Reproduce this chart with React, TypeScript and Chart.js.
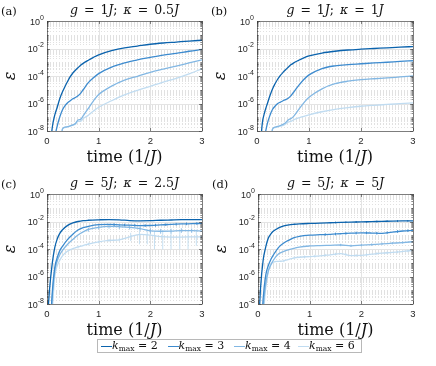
import React, { useEffect, useRef } from "react";
import { Chart, registerables } from "chart.js";

Chart.register(...registerables);

// ---------- data ----------
const kmaxLabels = ["2", "3", "4", "6"];
const seriesColors = ["#0b63ad", "#3d8bcf", "#82b7e3", "#c0dcf1"];

const yMajorTicks = [1e-8, 1e-6, 1e-4, 1e-2, 1];
const yMajorExponents = ["-8", "-6", "-4", "-2", "0"];
const xTicks = [0, 1, 2, 3];

// time grid, panels (a) and (b)
const tAB = [0.05, 0.1, 0.15, 0.2, 0.25, 0.3, 0.35, 0.4, 0.45, 0.5, 0.55, 0.6, 0.65, 0.7, 0.8, 0.9, 1.0, 1.25, 1.5, 1.75, 2.0, 2.25, 2.5, 2.75, 3.0];

const epsA_k2 = [1e-10, 1.58e-8, 1.41e-7, 5.62e-7, 2.4e-6, 7.08e-6, 1.78e-5, 4.17e-5, 8.91e-5, 1.66e-4, 2.63e-4, 3.98e-4, 6.03e-4, 8.32e-4, 1.41e-3, 2.29e-3, 3.47e-3, 6.92e-3, 1.12e-2, 1.51e-2, 2.04e-2, 2.51e-2, 2.95e-2, 3.47e-2, 3.98e-2];
const epsA_k3 = [1e-12, 1e-10, 3.16e-9, 2.51e-8, 1.12e-7, 3.55e-7, 7.08e-7, 1.12e-6, 1.58e-6, 2.19e-6, 2.75e-6, 3.63e-6, 5.5e-6, 1e-5, 3.31e-5, 7.59e-5, 1.48e-4, 4.37e-4, 8.91e-4, 1.48e-3, 2.24e-3, 3.31e-3, 4.47e-3, 6.31e-3, 8.51e-3];
const epsA_k4 = [1e-12, 1e-12, 1e-12, 1e-11, 3.16e-10, 1.41e-8, 1.91e-8, 2.09e-8, 2.4e-8, 2.82e-8, 3.55e-8, 6.31e-8, 7.08e-8, 1.26e-7, 4.47e-7, 1.58e-6, 4.47e-6, 1.82e-5, 5.01e-5, 9.55e-5, 1.82e-4, 3.16e-4, 5.25e-4, 8.91e-4, 1.51e-3];
const epsA_k6 = [1e-12, 1e-12, 1e-12, 1e-11, 3.16e-10, 1.41e-8, 1.78e-8, 2.0e-8, 2.24e-8, 2.63e-8, 3.16e-8, 5.01e-8, 5.01e-8, 7.94e-8, 1.41e-7, 2.82e-7, 5.37e-7, 1.58e-6, 4.17e-6, 8.91e-6, 1.78e-5, 3.55e-5, 6.76e-5, 1.41e-4, 3.39e-4];

const epsB_k2 = [1e-10, 3.16e-8, 2.51e-7, 1e-6, 3.8e-6, 1.2e-5, 2.82e-5, 6.03e-5, 1.1e-4, 1.82e-4, 2.88e-4, 4.37e-4, 6.46e-4, 8.71e-4, 1.38e-3, 2.09e-3, 2.88e-3, 4.68e-3, 6.31e-3, 7.76e-3, 8.91e-3, 1e-2, 1.12e-2, 1.26e-2, 1.38e-2];
const epsB_k3 = [1e-12, 1e-10, 3.98e-9, 3.55e-8, 1.41e-7, 3.8e-7, 6.61e-7, 1e-6, 1.26e-6, 1.58e-6, 1.91e-6, 2.4e-6, 3.55e-6, 6.31e-6, 2.0e-5, 5.62e-5, 1.2e-4, 3.47e-4, 5.5e-4, 6.76e-4, 7.76e-4, 8.91e-4, 1e-3, 1.15e-3, 1.29e-3];
const epsB_k4 = [1e-12, 1e-12, 1e-12, 1e-11, 3.16e-10, 1.41e-8, 1.91e-8, 2.19e-8, 2.51e-8, 3.02e-8, 3.98e-8, 6.31e-8, 7.94e-8, 1.12e-7, 3.55e-7, 1.12e-6, 2.82e-6, 1.17e-5, 2.75e-5, 4.17e-5, 5.37e-5, 6.31e-5, 7.24e-5, 8.51e-5, 1e-4];
const epsB_k6 = [1e-12, 1e-12, 1e-12, 1e-11, 3.16e-10, 1.41e-8, 1.78e-8, 2.0e-8, 2.24e-8, 2.51e-8, 3.31e-8, 4.47e-8, 5.01e-8, 6.31e-8, 8.91e-8, 1.17e-7, 1.51e-7, 2.51e-7, 3.8e-7, 5.01e-7, 6.31e-7, 7.41e-7, 8.51e-7, 9.77e-7, 1.12e-6];

// time grid, panels (c) and (d)
const tCD = [0.02, 0.05, 0.1, 0.15, 0.2, 0.25, 0.3, 0.4, 0.5, 0.6, 0.7, 0.8, 1.0, 1.2, 1.4, 1.6, 1.8, 2.0, 2.2, 2.4, 2.6, 2.8, 3.0];

const epsC_k2 = [3.16e-9, 1.26e-7, 7.94e-6, 1.26e-4, 5.62e-4, 1.41e-3, 2.51e-3, 5.25e-3, 7.94e-3, 1e-2, 1.15e-2, 1.23e-2, 1.32e-2, 1.38e-2, 1.32e-2, 1.17e-2, 1.12e-2, 1.15e-2, 1.23e-2, 1.29e-2, 1.35e-2, 1.38e-2, 1.38e-2];
const epsC_k3 = [1e-14, 1e-11, 5.01e-8, 4.47e-6, 2.51e-5, 7.94e-5, 1.58e-4, 5.01e-4, 1.2e-3, 2.4e-3, 3.55e-3, 4.47e-3, 5.89e-3, 6.17e-3, 5.75e-3, 5.37e-3, 5.01e-3, 5.13e-3, 5.62e-3, 6.17e-3, 6.61e-3, 6.92e-3, 7.24e-3];
const epsC_k4 = [1e-14, 1e-11, 2.51e-8, 2.51e-6, 1.41e-5, 3.98e-5, 7.94e-5, 2.19e-4, 5.01e-4, 1.05e-3, 1.78e-3, 2.63e-3, 3.8e-3, 4.37e-3, 4.17e-3, 3.8e-3, 3.02e-3, 2.09e-3, 1.95e-3, 2.0e-3, 2.19e-3, 2.14e-3, 2.0e-3];
const epsC_k6 = [1e-14, 1e-12, 2.51e-9, 1e-6, 6.31e-6, 1.58e-5, 3.16e-5, 7.08e-5, 1.05e-4, 1.41e-4, 1.78e-4, 2.29e-4, 3.31e-4, 4.17e-4, 4.68e-4, 7.59e-4, 1.15e-3, 1.02e-3, 7.94e-4, 7.41e-4, 7.41e-4, 7.59e-4, 7.76e-4];

const epsD_k2 = [1e-9, 1.58e-7, 1.58e-5, 1.41e-4, 6.31e-4, 1.26e-3, 2.0e-3, 3.47e-3, 4.79e-3, 5.75e-3, 6.31e-3, 6.76e-3, 7.24e-3, 7.59e-3, 8.13e-3, 8.71e-3, 9.12e-3, 9.33e-3, 9.77e-3, 1.02e-2, 1.07e-2, 1.1e-2, 1.12e-2];
const epsD_k3 = [1e-14, 1e-11, 2.51e-8, 1.26e-6, 6.31e-6, 1.78e-5, 3.8e-5, 1.32e-4, 2.75e-4, 4.47e-4, 6.61e-4, 8.32e-4, 1.02e-3, 1.1e-3, 1.17e-3, 1.29e-3, 1.41e-3, 1.51e-3, 1.45e-3, 1.35e-3, 1.7e-3, 2.04e-3, 2.24e-3];
const epsD_k4 = [1e-14, 1e-11, 5.01e-9, 3.16e-7, 2.51e-6, 7.08e-6, 1.58e-5, 4.47e-5, 6.76e-5, 8.91e-5, 1.12e-4, 1.38e-4, 1.66e-4, 1.78e-4, 1.86e-4, 1.95e-4, 1.7e-4, 1.91e-4, 2.09e-4, 2.34e-4, 2.63e-4, 2.95e-4, 3.39e-4];
const epsD_k6 = [1e-14, 1e-12, 1e-9, 1.58e-7, 2.51e-6, 7.94e-6, 1.12e-5, 1.26e-5, 1.38e-5, 1.78e-5, 2.24e-5, 2.51e-5, 2.82e-5, 3.16e-5, 3.8e-5, 4.57e-5, 3.31e-5, 3.39e-5, 4.17e-5, 5.01e-5, 5.62e-5, 6.61e-5, 7.94e-5];

// error bars (lower / upper ends)
const errC6_t = [1.62, 1.79, 1.94, 2.08, 2.24, 2.4, 2.57, 2.73, 2.89];
const errC6_lo = [3.8e-4, 2.2e-4, 2.2e-4, 9.5e-5, 9.5e-5, 9.5e-5, 9.5e-5, 9.5e-5, 1.7e-4];
const errC6_hi = [1.5e-3, 2.0e-3, 2.6e-3, 2.0e-3, 2.3e-3, 2.3e-3, 2.3e-3, 2.3e-3, 2.6e-3];
const errC6s_t = [0.6, 0.8, 1.0, 1.2, 1.4];
const errC6s_lo = [1.1e-4, 1.8e-4, 2.6e-4, 3.3e-4, 3.6e-4];
const errC6s_hi = [1.8e-4, 2.9e-4, 4.2e-4, 5.3e-4, 6.0e-4];
const errC4_t = [0.8, 1.0, 1.2, 1.4, 1.6, 1.8, 2.0, 2.2, 2.4, 2.6, 2.8];
const errC4_lo = [1.8e-3, 2.7e-3, 3.1e-3, 2.9e-3, 2.6e-3, 2.0e-3, 1.3e-3, 1.3e-3, 1.3e-3, 1.5e-3, 1.5e-3];
const errC4_hi = [3.6e-3, 5.2e-3, 6.0e-3, 5.8e-3, 5.3e-3, 4.3e-3, 3.2e-3, 2.9e-3, 3.0e-3, 3.2e-3, 3.1e-3];
const errC3_t = [1.3, 1.5, 1.7, 1.9, 2.1, 2.3, 2.5, 2.7, 2.9];
const errC3_lo = [4.7e-3, 4.4e-3, 4.2e-3, 4.0e-3, 4.2e-3, 4.7e-3, 5.1e-3, 5.4e-3, 5.7e-3];
const errC3_hi = [7.4e-3, 6.9e-3, 6.5e-3, 6.3e-3, 6.6e-3, 7.4e-3, 8.0e-3, 8.5e-3, 8.9e-3];

const errD2_t = [1.5, 1.7, 1.9, 2.1, 2.3, 2.5, 2.7, 2.9];
const errD2_lo = [7.3e-3, 7.7e-3, 8.0e-3, 8.3e-3, 8.7e-3, 9.1e-3, 9.4e-3, 9.7e-3];
const errD2_hi = [9.7e-3, 1.02e-2, 1.06e-2, 1.09e-2, 1.15e-2, 1.21e-2, 1.24e-2, 1.28e-2];
const errD3_t = [1.3, 1.5, 1.7, 1.9, 2.1, 2.3, 2.5, 2.7, 2.9];
const errD3_lo = [9.0e-4, 9.8e-4, 1.08e-3, 1.17e-3, 1.18e-3, 1.12e-3, 1.2e-3, 1.5e-3, 1.71e-3];
const errD3_hi = [1.41e-3, 1.54e-3, 1.69e-3, 1.83e-3, 1.85e-3, 1.75e-3, 1.88e-3, 2.34e-3, 2.68e-3];
const errD4_t = [1.6, 1.8, 2.0, 2.2, 2.4, 2.6, 2.8];
const errD4_lo = [1.6e-4, 1.4e-4, 1.57e-4, 1.71e-4, 1.92e-4, 2.16e-4, 2.42e-4];
const errD4_hi = [2.38e-4, 2.07e-4, 2.33e-4, 2.55e-4, 2.85e-4, 3.2e-4, 3.6e-4];
const errD6_t = [0.5, 0.7, 0.9, 1.1, 1.3, 1.5, 1.7, 1.9, 2.1, 2.3, 2.5, 2.7, 2.9];
const errD6_lo = [1.1e-5, 1.8e-5, 2.1e-5, 2.4e-5, 2.8e-5, 3.4e-5, 3.2e-5, 2.7e-5, 3.0e-5, 3.7e-5, 4.2e-5, 4.9e-5, 5.8e-5];
const errD6_hi = [1.7e-5, 2.8e-5, 3.3e-5, 3.8e-5, 4.4e-5, 5.3e-5, 5.0e-5, 4.2e-5, 4.8e-5, 5.8e-5, 6.6e-5, 7.6e-5, 9.0e-5];

// ---------- layout / style ----------
const PAD_L = 40, PAD_T = 8, PAD_R = 8, PAD_B = 18;
const TICK_FONT = "'Liberation Sans', Arial, sans-serif";
const SERIF = "'DejaVu Serif', serif";
const AXIS_COLOR = "#262626";

const panels = [
  { letter: "(a)", g: "1", kappa: "0.5", t: tAB, series: [epsA_k2, epsA_k3, epsA_k4, epsA_k6], errs: [], L: 47, T: 21, R: 202, B: 131 },
  { letter: "(b)", g: "1", kappa: "1", t: tAB, series: [epsB_k2, epsB_k3, epsB_k4, epsB_k6], errs: [], L: 257, T: 21, R: 413, B: 131 },
  {
    letter: "(c)", g: "5", kappa: "2.5", t: tCD, series: [epsC_k2, epsC_k3, epsC_k4, epsC_k6],
    errs: [
      { k: 3, t: errC6_t, lo: errC6_lo, hi: errC6_hi },
      { k: 3, t: errC6s_t, lo: errC6s_lo, hi: errC6s_hi },
      { k: 2, t: errC4_t, lo: errC4_lo, hi: errC4_hi },
      { k: 1, t: errC3_t, lo: errC3_lo, hi: errC3_hi },
    ],
    L: 47, T: 194, R: 202, B: 304,
  },
  {
    letter: "(d)", g: "5", kappa: "5", t: tCD, series: [epsD_k2, epsD_k3, epsD_k4, epsD_k6],
    errs: [
      { k: 0, t: errD2_t, lo: errD2_lo, hi: errD2_hi },
      { k: 1, t: errD3_t, lo: errD3_lo, hi: errD3_hi },
      { k: 2, t: errD4_t, lo: errD4_lo, hi: errD4_hi },
      { k: 3, t: errD6_t, lo: errD6_lo, hi: errD6_hi },
    ],
    L: 258, T: 194, R: 413, B: 304,
  },
];

// minor log grid positions (2..9 x 10^n and the odd decades)
const yMinorGrid: number[] = [];
for (let n = -8; n < 0; n++) {
  for (let m = 1; m <= 9; m++) {
    if (m === 1 && n % 2 === 0) continue;
    yMinorGrid.push(m * Math.pow(10, n));
  }
}

const matlabAxes = {
  id: "matlabAxes",
  beforeDatasetsDraw(chart: any) {
    const { ctx, chartArea: a, scales } = chart;
    const xs = scales.x, ys = scales.y;
    ctx.save();
    ctx.lineWidth = 1;
    ctx.strokeStyle = "#e1e1e1";
    ctx.setLineDash([1, 2]);
    for (const v of yMinorGrid) {
      const p = Math.round(ys.getPixelForValue(v)) + 0.5;
      ctx.beginPath(); ctx.moveTo(a.left, p); ctx.lineTo(a.right, p); ctx.stroke();
    }
    ctx.setLineDash([]);
    ctx.strokeStyle = "#e4e4e4";
    for (const v of yMajorTicks) {
      const p = Math.round(ys.getPixelForValue(v)) + 0.5;
      ctx.beginPath(); ctx.moveTo(a.left, p); ctx.lineTo(a.right, p); ctx.stroke();
    }
    for (const v of xTicks) {
      const p = Math.round(xs.getPixelForValue(v)) + 0.5;
      ctx.beginPath(); ctx.moveTo(p, a.top); ctx.lineTo(p, a.bottom); ctx.stroke();
    }
    ctx.restore();
  },
  afterDatasetsDraw(chart: any) {
    const { ctx, chartArea: a, scales } = chart;
    const xs = scales.x, ys = scales.y;
    ctx.save();
    ctx.strokeStyle = "#3a3a3a";
    ctx.lineWidth = 0.6;
    for (const v of yMajorTicks) {
      const p = Math.round(ys.getPixelForValue(v)) + 0.5;
      ctx.beginPath(); ctx.moveTo(a.left, p); ctx.lineTo(a.left + 3, p); ctx.stroke();
      ctx.beginPath(); ctx.moveTo(a.right, p); ctx.lineTo(a.right - 3, p); ctx.stroke();
    }
    for (const v of yMinorGrid) {
      const p = Math.round(ys.getPixelForValue(v)) + 0.5;
      ctx.beginPath(); ctx.moveTo(a.left, p); ctx.lineTo(a.left + 1.5, p); ctx.stroke();
      ctx.beginPath(); ctx.moveTo(a.right, p); ctx.lineTo(a.right - 1.5, p); ctx.stroke();
    }
    for (const v of xTicks) {
      const p = Math.round(xs.getPixelForValue(v)) + 0.5;
      ctx.beginPath(); ctx.moveTo(p, a.bottom); ctx.lineTo(p, a.bottom - 3); ctx.stroke();
      ctx.beginPath(); ctx.moveTo(p, a.top); ctx.lineTo(p, a.top + 3); ctx.stroke();
    }
    ctx.strokeRect(Math.round(a.left) + 0.5, Math.round(a.top) + 0.5, Math.round(a.right - a.left), Math.round(a.bottom - a.top));
    ctx.restore();
  },
  afterDraw(chart: any) {
    // y tick labels as 10 with superscript exponent, placed by the log scale
    const { ctx, chartArea: a, scales } = chart;
    const ys = scales.y;
    ctx.save();
    ctx.fillStyle = AXIS_COLOR;
    ctx.textBaseline = "alphabetic";
    ctx.textAlign = "right";
    yMajorTicks.forEach((v, i) => {
      const p = ys.getPixelForValue(v);
      const xr = a.left - 3;
      ctx.font = `7px ${TICK_FONT}`;
      const ew = ctx.measureText(yMajorExponents[i]).width;
      ctx.fillText(yMajorExponents[i], xr, p - 1.5);
      ctx.font = `9px ${TICK_FONT}`;
      ctx.fillText("10", xr - ew, p + 3.5);
    });
    ctx.restore();
  },
};

function Panel({ p }: { p: any }) {
  const ref = useRef<HTMLCanvasElement | null>(null);
  const W = p.R - p.L + PAD_L + PAD_R;
  const H = p.B - p.T + PAD_T + PAD_B;
  useEffect(() => {
    if (!ref.current) return;
    const datasets: any[] = p.series.map((ys: number[], i: number) => ({
      label: "k_max = " + kmaxLabels[i],
      data: p.t.map((x: number, j: number) => ({ x, y: ys[j] })),
      borderColor: seriesColors[i],
      backgroundColor: seriesColors[i],
      borderWidth: 1.3,
      pointRadius: 0,
      fill: false,
      cubicInterpolationMode: "monotone",
    }));
    for (const e of p.errs) {
      const pts: any[] = [];
      e.t.forEach((x: number, j: number) => {
        pts.push({ x, y: e.lo[j] }, { x, y: e.hi[j] }, { x, y: null });
      });
      datasets.push({
        label: "err",
        data: pts,
        borderColor: seriesColors[e.k],
        borderWidth: 0.9,
        pointRadius: 0,
        spanGaps: false,
        tension: 0,
        fill: false,
      });
    }
    const chart = new Chart(ref.current, {
      type: "line",
      data: { datasets },
      options: {
        animation: false,
        responsive: false,
        devicePixelRatio: 1,
        events: [],
        layout: { padding: { left: 0, top: PAD_T, right: PAD_R, bottom: 0 } },
        plugins: { legend: { display: false }, tooltip: { enabled: false }, title: { display: false } },
        scales: {
          x: {
            type: "linear",
            min: 0,
            max: 3,
            afterBuildTicks: (s: any) => { s.ticks = xTicks.map((v) => ({ value: v })); },
            afterFit: (s: any) => { s.height = PAD_B; },
            grid: { display: false, drawTicks: false },
            border: { display: false },
            ticks: { color: AXIS_COLOR, font: { family: TICK_FONT, size: 9.5 }, padding: 5, maxRotation: 0, autoSkip: false, callback: (v: any) => String(v) },
          },
          y: {
            type: "logarithmic",
            min: 1e-8,
            max: 1,
            afterBuildTicks: (s: any) => { s.ticks = yMajorTicks.map((v) => ({ value: v })); },
            afterFit: (s: any) => { s.width = PAD_L; },
            grid: { display: false, drawTicks: false },
            border: { display: false },
            ticks: { display: false },
          },
        },
      } as any,
      plugins: [matlabAxes as any],
    });
    return () => chart.destroy();
  }, []);
  return (
    <canvas
      ref={ref}
      width={W}
      height={H}
      style={{ position: "absolute", left: p.L - PAD_L, top: p.T - PAD_T, width: W, height: H }}
    />
  );
}

function PanelText({ p }: { p: any }) {
  const cx = (p.L + p.R) / 2;
  const cy = (p.T + p.B) / 2;
  return (
    <>
      <div style={{ position: "absolute", left: p.L - 46, top: p.T - 17, fontFamily: SERIF, fontSize: 11.5, lineHeight: "14px", color: "#111" }}>
        {p.letter}
      </div>
      <div style={{ position: "absolute", left: cx - 80, width: 160, top: p.T - 19, textAlign: "center", fontFamily: SERIF, fontSize: 12.5, lineHeight: "16px", color: "#111", whiteSpace: "nowrap", wordSpacing: "2px" }}>
        <i>g</i> = {p.g}<i>J</i>; <i>κ</i> = {p.kappa}<i>J</i>
      </div>
      <div style={{ position: "absolute", left: p.L - 37 - 20, top: cy - 10, width: 40, height: 20, textAlign: "center", fontFamily: SERIF, fontStyle: "italic", fontSize: 16, lineHeight: "20px", color: "#111", transform: "rotate(-90deg)" }}>
        ε
      </div>
      <div style={{ position: "absolute", left: cx - 70, width: 140, top: p.B + 16, textAlign: "center", fontFamily: SERIF, fontSize: 16, lineHeight: "20px", color: "#111", whiteSpace: "nowrap" }}>
        time (1/<i>J</i>)
      </div>
    </>
  );
}

function Legend() {
  const lefts = [3, 69.5, 136, 200];
  return (
    <div style={{ position: "absolute", left: 97, top: 339, width: 265, height: 14, border: "1px solid #b8b8b8", background: "#fff", boxSizing: "border-box" }}>
      {kmaxLabels.map((k, i) => (
        <div key={k} style={{ position: "absolute", left: lefts[i], top: 0, height: 12, display: "flex", alignItems: "center", whiteSpace: "nowrap", fontFamily: SERIF, fontSize: 11, color: "#111" }}>
          <span style={{ display: "inline-block", width: 11, height: 0, borderTop: `1.3px solid ${seriesColors[i]}`, marginRight: 0 }} />
          <span style={{ lineHeight: "12px" }}>
            <i>k</i>
            <sub style={{ fontSize: 7.5, fontStyle: "normal", verticalAlign: "-2px", lineHeight: 0 }}>max</sub>
            {" = " + k}
          </span>
        </div>
      ))}
    </div>
  );
}

export default function App() {
  return (
    <div style={{ position: "absolute", left: 0, top: 0, width: 436, height: 366, background: "#fff", overflow: "hidden" }}>
      {panels.map((p) => (
        <Panel key={p.letter} p={p} />
      ))}
      {panels.map((p) => (
        <PanelText key={"t" + p.letter} p={p} />
      ))}
      <Legend />
    </div>
  );
}
